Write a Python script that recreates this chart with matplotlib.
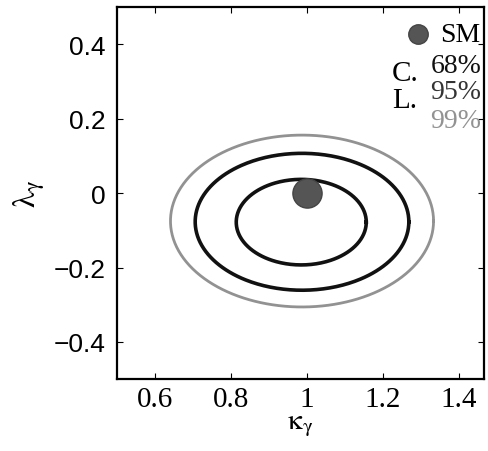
import numpy as np
import matplotlib
matplotlib.use("Agg")
import matplotlib.pyplot as plt

plt.rcParams['font.family'] = ['Liberation Serif', 'DejaVu Serif']
plt.rcParams['mathtext.fontset'] = 'stix'

# Contour ellipses (center kappa, center lambda, half-width, half-height)
levels = ["68%", "95%", "99%"]
centers_kappa = [0.985, 0.987, 0.987]
centers_lambda = [-0.078, -0.077, -0.075]
half_widths = [0.171, 0.281, 0.346]
half_heights = [0.115, 0.184, 0.231]
colors = ["#111111", "#111111", "#929292"]
text_colors = ["#111111", "#333333", "#929292"]
widths = [2.6, 2.6, 2.0]

sm_kappa = [1.0]
sm_lambda = [0.0]

xticks = [0.6, 0.8, 1.0, 1.2, 1.4]
xticklabels = ["0.6", "0.8", "1", "1.2", "1.4"]
yticks = [-0.4, -0.2, 0.0, 0.2, 0.4]
yticklabels = ["\u22120.4", "\u22120.2", "0", "0.2", "0.4"]

fig = plt.figure(figsize=(4.89, 4.52), dpi=100)
ax = fig.add_axes([0.239, 0.159, 0.751, 0.823])

t = np.linspace(0, 2 * np.pi, 400)
for ck, cl, a, b, c, w in zip(centers_kappa, centers_lambda, half_widths, half_heights, colors, widths):
    ax.plot(ck + a * np.cos(t), cl + b * np.sin(t), color=c, lw=w)

ax.plot(sm_kappa, sm_lambda, 'o', color="#555555", markersize=21, mec="#444444", zorder=5)

ax.set_xlim(0.5, 1.466)
ax.set_ylim(-0.5, 0.5)
ax.set_xticks(xticks)
ax.set_xticklabels(xticklabels)
ax.set_yticks(yticks)
ax.set_yticklabels(yticklabels, family=['Liberation Sans', 'DejaVu Sans'])
ax.tick_params(direction='in', length=4, width=0.8, labelsize=19, top=True, right=True)
ax.tick_params(axis='x', pad=5, labelsize=21)
ax.tick_params(axis='y', pad=8)
for s in ax.spines.values():
    s.set_linewidth(1.6)

ax.set_xlabel(r'$\mathrm{\kappa}_{\mathrm{\gamma}}$', fontsize=21, labelpad=0)
ax.set_ylabel(r'$\mathrm{\lambda}_{\mathrm{\gamma}}$', fontsize=23, labelpad=5)

# Legend-like annotations
ax.plot([0.82], [0.927], 'o', color="#555555", markersize=14, mec="#444444", transform=ax.transAxes, clip_on=False)
ax.text(0.935, 0.927, "SM", transform=ax.transAxes, fontsize=20, ha='center', va='center')
ax.text(0.785, 0.823, "C.", transform=ax.transAxes, fontsize=21, ha='center', va='center')
ax.text(0.785, 0.75, "L.", transform=ax.transAxes, fontsize=21, ha='center', va='center')
for ty, lab, tc in zip([0.844, 0.772, 0.696], levels, text_colors):
    ax.text(0.923, ty, lab, transform=ax.transAxes, fontsize=20,
            ha='center', va='center', color=tc)

fig.savefig("out.png", dpi=100)
